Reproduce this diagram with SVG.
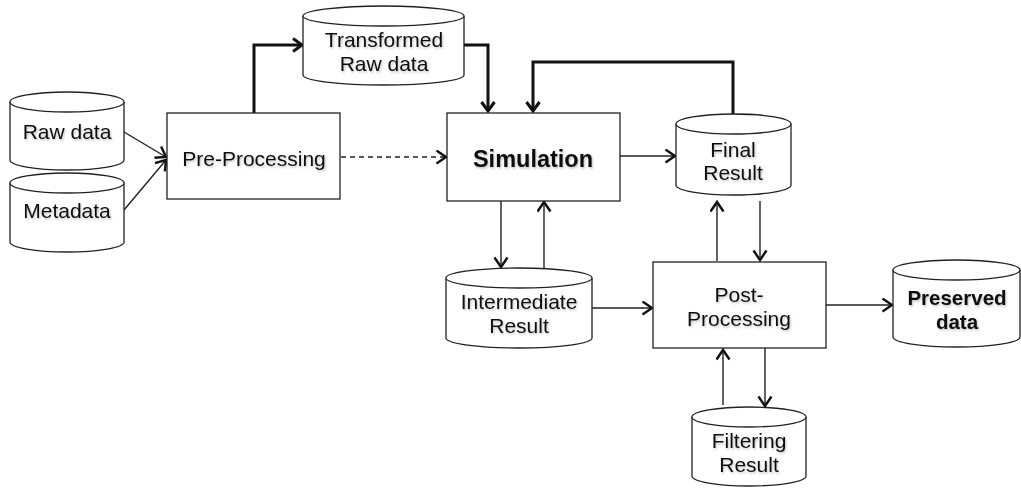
<svg xmlns="http://www.w3.org/2000/svg" width="1021" height="491" viewBox="0 0 1021 491">
<style>
.shape{fill:#fff;stroke:#222;stroke-width:1.3}
.t{font-family:"Liberation Sans",Arial,sans-serif;font-size:21px;fill:#111;text-anchor:middle}
.b{font-weight:bold;}
.c{fill:none;stroke:#222;stroke-width:1.4}
.k{fill:none;stroke:#111;stroke-width:3}
.d{stroke-dasharray:5,4}
</style>
<defs>
<marker id="a" markerUnits="userSpaceOnUse" markerWidth="14" markerHeight="16" refX="11" refY="7.5" orient="auto"><path d="M1.5,1 L11,7.5 L1.5,14" fill="none" stroke="#111" stroke-width="2.4"/></marker>
<marker id="ak" markerUnits="userSpaceOnUse" markerWidth="16" markerHeight="18" refX="11" refY="8" orient="auto"><path d="M2,1.5 L11,8 L2,14.5" fill="none" stroke="#111" stroke-width="3"/></marker>
<filter id="sh" x="-10%" y="-20%" width="120%" height="140%"><feDropShadow dx="1" dy="1.5" stdDeviation="1" flood-color="#000" flood-opacity="0.25"/></filter>
</defs>
<g id="connectors">
<line class="c" x1="124" y1="132" x2="166" y2="157" marker-end="url(#a)"/>
<line class="c" x1="124" y1="210" x2="166" y2="160" marker-end="url(#a)"/>
<polyline class="k" points="254,113 254,45 302,45" marker-end="url(#ak)"/>
<polyline class="k" points="464,45 488,45 488,111" marker-end="url(#ak)"/>
<polyline class="k" points="733,114 733,62 533,62 533,111" marker-end="url(#ak)"/>
<line class="c d" x1="341" y1="157" x2="446" y2="157" marker-end="url(#a)"/>
<line class="c" x1="620" y1="156" x2="675" y2="156" marker-end="url(#a)"/>
<line class="c" x1="717" y1="261" x2="717" y2="202" marker-end="url(#a)"/>
<line class="c" x1="760" y1="201" x2="760" y2="260" marker-end="url(#a)"/>
<line class="c" x1="501" y1="201" x2="501" y2="267" marker-end="url(#a)"/>
<line class="c" x1="544" y1="268" x2="544" y2="202" marker-end="url(#a)"/>
<line class="c" x1="592" y1="308" x2="652" y2="308" marker-end="url(#a)"/>
<line class="c" x1="765" y1="348" x2="765" y2="406" marker-end="url(#a)"/>
<line class="c" x1="723" y1="405" x2="723" y2="350" marker-end="url(#a)"/>
<line class="c" x1="826" y1="305" x2="892" y2="305" marker-end="url(#a)"/>
</g>
<g id="raw-data">
<path class="shape" d="M10,102 A57,10 0 0 1 124,102 V160 A57,10 0 0 1 10,160 Z"/>
<path class="shape" fill="none" d="M10,102 A57,10 0 0 0 124,102"/>
<text class="t" x="67" y="139" filter="url(#sh)">Raw data</text>
</g>
<g id="metadata">
<path class="shape" d="M10,183 A57,10 0 0 1 124,183 V242 A57,10 0 0 1 10,242 Z"/>
<path class="shape" d="M10,183 A57,10 0 0 0 124,183"/>
<text class="t" x="67" y="218" filter="url(#sh)">Metadata</text>
</g>
<g id="pre-processing">
<rect class="shape" x="167" y="113" width="173" height="86"/>
<text class="t" x="254" y="166" filter="url(#sh)">Pre-Processing</text>
</g>
<g id="transformed-raw-data">
<path class="shape" d="M303,16 A80.5,10 0 0 1 464,16 V75 A80.5,10 0 0 1 303,75 Z"/>
<path class="shape" d="M303,16 A80.5,10 0 0 0 464,16"/>
<text class="t" x="384" y="47" filter="url(#sh)">Transformed</text>
<text class="t" x="384" y="71" filter="url(#sh)">Raw data</text>
</g>
<g id="simulation">
<rect class="shape" x="447" y="113" width="173" height="88"/>
<text class="t b" x="533" y="167" style="font-size:23.5px" filter="url(#sh)">Simulation</text>
</g>
<g id="final-result">
<path class="shape" d="M676,124 A57.5,10 0 0 1 791,124 V185 A57.5,10 0 0 1 676,185 Z"/>
<path class="shape" d="M676,124 A57.5,10 0 0 0 791,124"/>
<text class="t" x="733" y="157" filter="url(#sh)">Final</text>
<text class="t" x="733" y="180" filter="url(#sh)">Result</text>
</g>
<g id="intermediate-result">
<path class="shape" d="M446,278 A73,10 0 0 1 592,278 V338 A73,10 0 0 1 446,338 Z"/>
<path class="shape" d="M446,278 A73,10 0 0 0 592,278"/>
<text class="t" x="519" y="309" filter="url(#sh)">Intermediate</text>
<text class="t" x="519" y="333" filter="url(#sh)">Result</text>
</g>
<g id="post-processing">
<rect class="shape" x="653" y="262" width="173" height="86"/>
<text class="t" x="739" y="302" filter="url(#sh)">Post-</text>
<text class="t" x="739" y="326" filter="url(#sh)">Processing</text>
</g>
<g id="filtering-result">
<path class="shape" d="M692,417 A57,10 0 0 1 806,417 V476 A57,10 0 0 1 692,476 Z"/>
<path class="shape" d="M692,417 A57,10 0 0 0 806,417"/>
<text class="t" x="749" y="448" filter="url(#sh)">Filtering</text>
<text class="t" x="749" y="472" filter="url(#sh)">Result</text>
</g>
<g id="preserved-data">
<path class="shape" d="M893,270 A63.5,10 0 0 1 1020,270 V337 A63.5,10 0 0 1 893,337 Z"/>
<path class="shape" d="M893,270 A63.5,10 0 0 0 1020,270"/>
<text class="t b" x="957" y="305" style="font-size:20.5px" filter="url(#sh)">Preserved</text>
<text class="t b" x="957" y="329" style="font-size:20.5px" filter="url(#sh)">data</text>
</g>
</svg>
